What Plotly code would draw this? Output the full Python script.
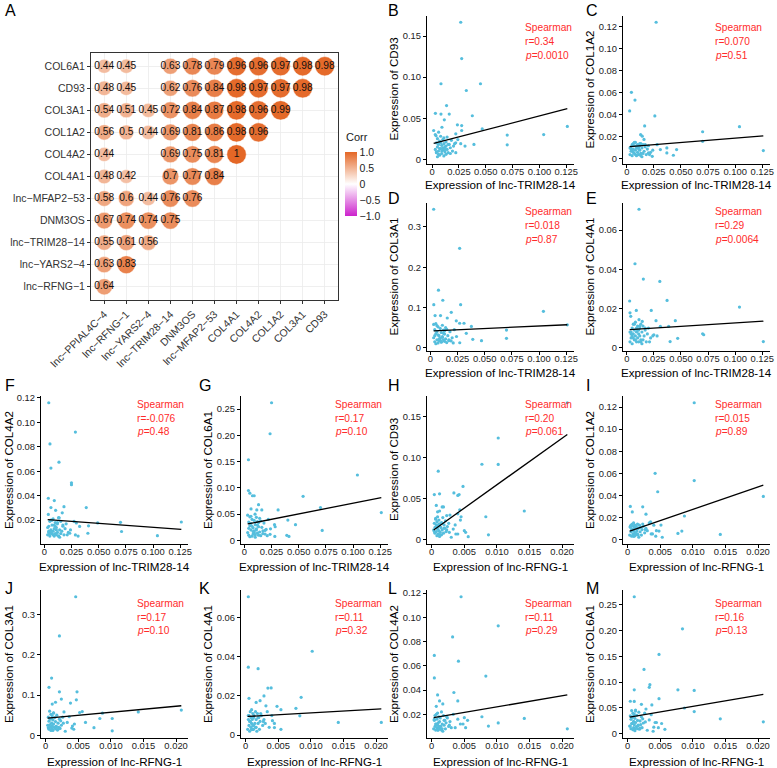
import numpy as np
import plotly.graph_objects as go

W, H = 777, 768
FONT = "Liberation Sans, Arial, sans-serif"

# ---------------- Panel A data: correlation matrix ----------------
corr_cols = ["lnc−PPIAL4C−4", "lnc−RFNG−1", "lnc−YARS2−4", "lnc−TRIM28−14", "DNM3OS",
             "lnc−MFAP2−53", "COL4A1", "COL4A2", "COL1A2", "COL3A1", "CD93"]
corr_rows = ["lnc−RFNG−1", "lnc−YARS2−4", "lnc−TRIM28−14", "DNM3OS", "lnc−MFAP2−53",
             "COL4A1", "COL4A2", "COL1A2", "COL3A1", "CD93", "COL6A1"]   # bottom -> top
corr_values = [
    [0.64],
    [0.63, 0.83],
    [0.55, 0.61, 0.56],
    [0.67, 0.74, 0.74, 0.75],
    [0.58, 0.60, 0.44, 0.76, 0.76],
    [0.48, 0.42, None, 0.70, 0.77, 0.84],
    [0.44, None, None, 0.69, 0.75, 0.81, 1.00],
    [0.56, 0.50, 0.44, 0.69, 0.81, 0.86, 0.98, 0.96],
    [0.54, 0.51, 0.45, 0.72, 0.84, 0.87, 0.98, 0.96, 0.99],
    [0.48, 0.45, None, 0.62, 0.76, 0.84, 0.98, 0.97, 0.97, 0.98],
    [0.44, 0.45, None, 0.63, 0.78, 0.79, 0.96, 0.96, 0.97, 0.98, 0.98],
]

# ---------------- Scatter data ----------------
trim_cluster_x = [0.003, 0.004, 0.004, 0.005, 0.005, 0.006, 0.006, 0.007, 0.007, 0.008, 0.008, 0.009, 0.009,
                  0.010, 0.010, 0.011, 0.011, 0.012, 0.012, 0.013, 0.013, 0.014, 0.014, 0.015, 0.016, 0.017,
                  0.018, 0.019, 0.020, 0.022, 0.003, 0.005, 0.007, 0.009, 0.011, 0.013, 0.006, 0.008, 0.010,
                  0.012, 0.004, 0.015, 0.017, 0.024, 0.021]
rfng_cluster_x = [0.0003, 0.0004, 0.0005, 0.0005, 0.0006, 0.0007, 0.0007, 0.0008, 0.0008, 0.0009, 0.0009,
                  0.0010, 0.0010, 0.0011, 0.0011, 0.0012, 0.0012, 0.0013, 0.0014, 0.0015, 0.0015, 0.0016,
                  0.0017, 0.0018, 0.0019, 0.0020, 0.0021, 0.0022, 0.0024, 0.0026, 0.0028, 0.0030, 0.0033,
                  0.0004, 0.0006, 0.0009, 0.0012, 0.0016, 0.0019, 0.0023, 0.0027, 0.0036, 0.0040, 0.0044,
                  0.0011]

b_x = [0.0267, 0.0276, 0.0083, 0.0451, 0.0319, 0.0135, 0.0031, 0.0083, 0.0160, 0.0375, 0.0114, 0.0236,
       0.0276, 0.0092, 0.0467, 0.0015, 0.0061, 0.0276, 0.0221, 0.0700, 0.1040, 0.1260, 0.0037, 0.0267,
       0.0390, 0.0307, 0.0700, 0.0221] + trim_cluster_x
b_y = [0.167, 0.1227, 0.092, 0.092, 0.0838, 0.0654, 0.056, 0.055, 0.055, 0.053, 0.048, 0.042, 0.041,
       0.039, 0.037, 0.035, 0.033, 0.035, 0.031, 0.0295, 0.030, 0.040, 0.0286, 0.019, 0.018, 0.016,
       0.0176, 0.008,
       0.012, 0.020, 0.008, 0.015, 0.025, 0.010, 0.018, 0.005, 0.022, 0.013, 0.028, 0.007, 0.017, 0.011,
       0.024, 0.004, 0.019, 0.009, 0.015, 0.021, 0.006, 0.012, 0.027, 0.008, 0.018, 0.014, 0.023, 0.010,
       0.016, 0.020, 0.030, 0.003, 0.013, 0.010, 0.026, 0.016, 0.006, 0.020, 0.014, 0.012, 0.009, 0.018,
       0.007, 0.024, 0.019]

c_x = [0.0271, 0.0043, 0.0076, 0.0027, 0.0259, 0.0165, 0.0700, 0.1040, 0.0128, 0.0143, 0.0159, 0.1260,
       0.0370, 0.0460, 0.0370, 0.0430, 0.0280, 0.0310, 0.0200, 0.0235, 0.0700] + trim_cluster_x
c_y = [0.124, 0.0604, 0.0534, 0.0436, 0.039, 0.030, 0.0247, 0.0293, 0.022, 0.0207, 0.0177, 0.0076,
       0.010, 0.0085, 0.0055, 0.0034, 0.013, 0.0085, 0.0055, 0.0024, 0.016,
       0.004, 0.011, 0.007, 0.013, 0.003, 0.009, 0.014, 0.005, 0.012, 0.008, 0.015, 0.003, 0.010, 0.013,
       0.006, 0.011, 0.004, 0.012, 0.008, 0.014, 0.005, 0.010, 0.002, 0.013, 0.007, 0.011, 0.004, 0.009,
       0.012, 0.006, 0.010, 0.008, 0.015, 0.012, 0.009, 0.003, 0.006, 0.004, 0.011, 0.014, 0.009, 0.005,
       0.013, 0.008, 0.004]

d_x = [0.0030, 0.0269, 0.0074, 0.0114, 0.0031, 0.0278, 0.1040, 0.0192, 0.0043, 0.0093, 0.0155, 0.0238,
       0.0269, 0.0309, 0.0377, 0.1260, 0.0700, 0.0700, 0.0390, 0.0470, 0.0270, 0.0330] + trim_cluster_x
d_y = [0.344, 0.247, 0.143, 0.118, 0.107, 0.107, 0.0905, 0.088, 0.080, 0.080, 0.074, 0.067, 0.061,
       0.061, 0.053, 0.057, 0.044, 0.0235, 0.021, 0.0176, 0.0126, 0.036,
       0.025, 0.045, 0.015, 0.035, 0.060, 0.020, 0.040, 0.012, 0.052, 0.030, 0.018, 0.048, 0.024, 0.038,
       0.014, 0.056, 0.028, 0.020, 0.044, 0.016, 0.034, 0.022, 0.050, 0.013, 0.030, 0.020, 0.040, 0.017,
       0.025, 0.045, 0.058, 0.010, 0.032, 0.019, 0.026, 0.042, 0.055, 0.022, 0.015, 0.036, 0.030, 0.046,
       0.018, 0.028, 0.012]

e_x = [0.0113, 0.0076, 0.0153, 0.0305, 0.0372, 0.0027, 0.1040, 0.0226, 0.0088, 0.0030, 0.0037, 0.0113,
       0.0448, 0.0270, 0.0143, 0.0310, 0.0387, 0.0700, 0.0710, 0.0250, 0.0280, 0.0470, 0.0400,
       0.1260] + trim_cluster_x
e_y = [0.0706, 0.0428, 0.035, 0.0338, 0.0241, 0.0238, 0.0207, 0.019, 0.019, 0.0178, 0.016, 0.0143,
       0.0138, 0.0138, 0.0134, 0.0109, 0.0109, 0.0071, 0.0066, 0.0066, 0.006, 0.0048, 0.0031, 0.0031,
       0.003, 0.008, 0.005, 0.010, 0.002, 0.007, 0.012, 0.004, 0.009, 0.006, 0.013, 0.003, 0.008, 0.011,
       0.005, 0.009, 0.003, 0.010, 0.006, 0.012, 0.004, 0.008, 0.002, 0.011, 0.006, 0.009, 0.003, 0.007,
       0.010, 0.005, 0.008, 0.006, 0.012, 0.010, 0.007, 0.003, 0.005, 0.004, 0.009, 0.011, 0.007, 0.004,
       0.010, 0.006, 0.003]

f_x = [0.0040, 0.0285, 0.0051, 0.0060, 0.0134, 0.0249, 0.0249, 0.0036, 0.0091, 0.0060, 0.0103, 0.0180,
       0.0385, 0.0164, 0.0036, 0.0136, 0.0273, 0.0294, 0.0490, 0.0700, 0.1260, 0.0406, 0.0324, 0.0400,
       0.0285, 0.0310, 0.0710, 0.1040, 0.0233] + trim_cluster_x
f_y = [0.116, 0.092, 0.0823, 0.0626, 0.0674, 0.0505, 0.049, 0.0379, 0.036, 0.0303, 0.028, 0.031, 0.0303,
       0.026, 0.0247, 0.0219, 0.019, 0.0177, 0.0177, 0.0182, 0.0185, 0.0154, 0.0149, 0.0093, 0.0079,
       0.007, 0.0107, 0.0073, 0.0093,
       0.008, 0.015, 0.010, 0.019, 0.007, 0.012, 0.020, 0.009, 0.016, 0.011, 0.021, 0.007, 0.013, 0.018,
       0.009, 0.014, 0.008, 0.017, 0.010, 0.022, 0.007, 0.012, 0.006, 0.019, 0.011, 0.015, 0.008, 0.013,
       0.017, 0.010, 0.014, 0.009, 0.020, 0.016, 0.012, 0.007, 0.010, 0.008, 0.015, 0.018, 0.011, 0.009,
       0.016, 0.012, 0.008]

g_x = [0.0250, 0.0236, 0.0037, 0.1040, 0.0037, 0.0050, 0.0074, 0.0090, 0.0540, 0.0130, 0.0700, 0.0061,
       0.0114, 0.0160, 0.0310, 0.0098, 0.1260, 0.0400, 0.0470, 0.0277, 0.0283, 0.0716, 0.0390, 0.0410,
       0.0280, 0.0236, 0.0190] + trim_cluster_x
g_y = [0.262, 0.203, 0.1535, 0.1245, 0.095, 0.090, 0.085, 0.085, 0.084, 0.068, 0.0626, 0.060, 0.058,
       0.058, 0.058, 0.050, 0.053, 0.0387, 0.030, 0.030, 0.026, 0.019, 0.0097, 0.0077, 0.0077, 0.0116,
       0.019,
       0.015, 0.035, 0.010, 0.028, 0.045, 0.020, 0.032, 0.008, 0.040, 0.024, 0.012, 0.038, 0.018, 0.030,
       0.006, 0.044, 0.022, 0.014, 0.036, 0.010, 0.026, 0.016, 0.042, 0.009, 0.025, 0.018, 0.033, 0.012,
       0.021, 0.040, 0.048, 0.007, 0.027, 0.015, 0.020, 0.034, 0.046, 0.017, 0.011, 0.029, 0.023, 0.037,
       0.013, 0.022, 0.009]

h_x = [0.0208, 0.0102, 0.0077, 0.0102, 0.0010, 0.0048, 0.0034, 0.0004, 0.0012, 0.0040, 0.0042, 0.0007,
       0.0016, 0.0018, 0.0012, 0.0009, 0.0043, 0.0040, 0.0142, 0.0083, 0.0045, 0.0023, 0.0050, 0.0052,
       0.0056, 0.0087, 0.0037] + rfng_cluster_x
h_y = [0.167, 0.124, 0.092, 0.0918, 0.0836, 0.065, 0.057, 0.055, 0.056, 0.054, 0.055, 0.0418, 0.040,
       0.040, 0.035, 0.034, 0.0365, 0.0316, 0.035, 0.028, 0.028, 0.0295, 0.011, 0.009, 0.0037, 0.006,
       0.007,
       0.012, 0.020, 0.008, 0.015, 0.025, 0.010, 0.018, 0.005, 0.022, 0.013, 0.028, 0.007, 0.017, 0.011,
       0.024, 0.004, 0.019, 0.009, 0.015, 0.021, 0.006, 0.012, 0.027, 0.008, 0.018, 0.014, 0.023, 0.010,
       0.016, 0.020, 0.030, 0.003, 0.013, 0.010, 0.026, 0.016, 0.006, 0.020, 0.014, 0.012, 0.009, 0.018,
       0.007, 0.024, 0.019]

i_x = [0.0102, 0.0042, 0.0102, 0.0046, 0.0208, 0.0004, 0.0023, 0.0007, 0.0028, 0.0087, 0.0035, 0.0051,
       0.0083, 0.0077, 0.0142, 0.0048, 0.0043, 0.0053, 0.0038] + rfng_cluster_x
i_y = [0.124, 0.060, 0.0534, 0.0433, 0.039, 0.030, 0.0296, 0.025, 0.0229, 0.0213, 0.016, 0.0131, 0.0076,
       0.0055, 0.0046, 0.0076, 0.003, 0.002, 0.005,
       0.004, 0.011, 0.007, 0.013, 0.003, 0.009, 0.014, 0.005, 0.012, 0.008, 0.015, 0.003, 0.010, 0.013,
       0.006, 0.011, 0.004, 0.012, 0.008, 0.014, 0.005, 0.010, 0.002, 0.013, 0.007, 0.011, 0.004, 0.009,
       0.012, 0.006, 0.010, 0.008, 0.015, 0.012, 0.009, 0.003, 0.006, 0.004, 0.011, 0.014, 0.009, 0.005,
       0.013, 0.008, 0.004]

j_x = [0.0046, 0.0021, 0.0009, 0.0005, 0.0021, 0.0048, 0.0024, 0.0047, 0.0015, 0.0038, 0.0010, 0.0056,
       0.0052, 0.0142, 0.0208, 0.0087, 0.0102, 0.0083, 0.0074, 0.0102, 0.0061, 0.0041, 0.0043] + rfng_cluster_x
j_y = [0.344, 0.2466, 0.142, 0.119, 0.108, 0.108, 0.090, 0.088, 0.082, 0.080, 0.0775, 0.059, 0.0566,
       0.058, 0.0625, 0.055, 0.0417, 0.0417, 0.019, 0.011, 0.032, 0.023, 0.015,
       0.025, 0.045, 0.015, 0.035, 0.060, 0.020, 0.040, 0.012, 0.052, 0.030, 0.018, 0.048, 0.024, 0.038,
       0.014, 0.056, 0.028, 0.020, 0.044, 0.016, 0.034, 0.022, 0.050, 0.013, 0.030, 0.020, 0.040, 0.017,
       0.025, 0.045, 0.058, 0.010, 0.032, 0.019, 0.026, 0.042, 0.055, 0.022, 0.015, 0.036, 0.030, 0.046,
       0.018, 0.028, 0.012]

k_x = [0.0004, 0.0004, 0.0019, 0.0102, 0.0034, 0.0039, 0.0005, 0.0085, 0.0022, 0.0028, 0.0016, 0.0031,
       0.0048, 0.0077, 0.0054, 0.0142, 0.0208, 0.0083, 0.0041, 0.0044, 0.0054] + rfng_cluster_x
k_y = [0.0706, 0.0347, 0.0339, 0.0428, 0.024, 0.0241, 0.0188, 0.0193, 0.0176, 0.020, 0.0167, 0.015,
       0.0147, 0.0137, 0.013, 0.0065, 0.0065, 0.0099, 0.0074, 0.0039, 0.003,
       0.003, 0.008, 0.005, 0.010, 0.002, 0.007, 0.012, 0.004, 0.009, 0.006, 0.013, 0.003, 0.008, 0.011,
       0.005, 0.009, 0.003, 0.010, 0.006, 0.012, 0.004, 0.008, 0.002, 0.011, 0.006, 0.009, 0.003, 0.007,
       0.010, 0.005, 0.008, 0.006, 0.012, 0.010, 0.007, 0.003, 0.005, 0.004, 0.009, 0.011, 0.007, 0.004,
       0.010, 0.006, 0.003]

l_x = [0.0045, 0.0102, 0.0032, 0.0004, 0.0041, 0.0083, 0.0004, 0.0034, 0.0040, 0.0009, 0.0012, 0.0007,
       0.0017, 0.0077, 0.0050, 0.0142, 0.0102, 0.0087, 0.0208, 0.0048, 0.0052, 0.0055] + rfng_cluster_x
l_y = [0.117, 0.093, 0.0838, 0.0686, 0.0638, 0.0515, 0.050, 0.038, 0.031, 0.036, 0.031, 0.0266, 0.0286,
       0.018, 0.0172, 0.0166, 0.0129, 0.0103, 0.008, 0.012, 0.009, 0.015,
       0.008, 0.015, 0.010, 0.019, 0.007, 0.012, 0.020, 0.009, 0.016, 0.011, 0.021, 0.007, 0.013, 0.018,
       0.009, 0.014, 0.008, 0.017, 0.010, 0.022, 0.007, 0.012, 0.006, 0.019, 0.011, 0.015, 0.008, 0.013,
       0.017, 0.010, 0.014, 0.009, 0.020, 0.016, 0.012, 0.007, 0.010, 0.008, 0.015, 0.018, 0.011, 0.009,
       0.016, 0.012, 0.008]

m_x = [0.0010, 0.0084, 0.0048, 0.0025, 0.0034, 0.0033, 0.0010, 0.0077, 0.0102, 0.0048, 0.0004, 0.0010,
       0.0021, 0.0087, 0.0102, 0.0142, 0.0208, 0.0037, 0.0042, 0.0052, 0.0047, 0.0057, 0.0039] + rfng_cluster_x
m_y = [0.265, 0.203, 0.1535, 0.1245, 0.095, 0.090, 0.085, 0.085, 0.084, 0.068, 0.063, 0.0626, 0.057,
       0.050, 0.043, 0.029, 0.0233, 0.056, 0.022, 0.020, 0.012, 0.0087, 0.005,
       0.015, 0.035, 0.010, 0.028, 0.045, 0.020, 0.032, 0.008, 0.040, 0.024, 0.012, 0.038, 0.018, 0.030,
       0.006, 0.044, 0.022, 0.014, 0.036, 0.010, 0.026, 0.016, 0.042, 0.009, 0.025, 0.018, 0.033, 0.012,
       0.021, 0.040, 0.048, 0.007, 0.027, 0.015, 0.020, 0.034, 0.046, 0.017, 0.011, 0.029, 0.023, 0.037,
       0.013, 0.022, 0.009]

panel_letters = ["B", "C", "D", "E", "F", "G", "H", "I", "J", "K", "L", "M"]
panel_genes = ["CD93", "COL1A2", "COL3A1", "COL4A1", "COL4A2", "COL6A1",
               "CD93", "COL1A2", "COL3A1", "COL4A1", "COL4A2", "COL6A1"]
panel_lnc = ["lnc-TRIM28-14"] * 6 + ["lnc-RFNG-1"] * 6
spearman_r = ["0.34", "0.070", "0.018", "0.29", "-0.076", "0.17",
              "0.20", "0.015", "0.17", "0.11", "0.11", "0.16"]
spearman_p = ["0.0010", "0.51", "0.87", "0.0064", "0.48", "0.10",
              "0.061", "0.89", "0.10", "0.32", "0.29", "0.13"]
# linear-fit lines (intercept, slope)
fit_intercept = [0.0188, 0.0109, 0.0418, 0.0091, 0.0206, 0.0301,
                 0.0102, 0.0069, 0.0421, 0.0095, 0.0169, 0.0316]
fit_slope = [0.340, 0.0796, 0.122, 0.0354, -0.065, 0.407,
             5.68, 2.04, 1.50, 0.187, 0.92, 2.14]

trim_ticks = [0, 0.025, 0.05, 0.075, 0.1, 0.125]
trim_ticktext = ["0", "0.025", "0.050", "0.075", "0.100", "0.125"]
rfng_ticks = [0, 0.005, 0.01, 0.015, 0.02]
rfng_ticktext = ["0", "0.005", "0.010", "0.015", "0.020"]
gene_ticks = {
    "CD93": ([0, 0.05, 0.10, 0.15], ["0", "0.05", "0.10", "0.15"]),
    "COL1A2": ([0, 0.02, 0.04, 0.06, 0.08, 0.10, 0.12], ["0", "0.02", "0.04", "0.06", "0.08", "0.10", "0.12"]),
    "COL3A1": ([0, 0.1, 0.2, 0.3], ["0", "0.1", "0.2", "0.3"]),
    "COL4A1": ([0, 0.02, 0.04, 0.06], ["0", "0.02", "0.04", "0.06"]),
    "COL4A2": ([0, 0.02, 0.04, 0.06, 0.08, 0.10, 0.12], ["0", "0.02", "0.04", "0.06", "0.08", "0.10", "0.12"]),
    "COL6A1": ([0, 0.05, 0.10, 0.15, 0.20, 0.25], ["0", "0.05", "0.10", "0.15", "0.20", "0.25"]),
}
panel_x = [b_x, c_x, d_x, e_x, f_x, g_x, h_x, i_x, j_x, k_x, l_x, m_x]
panel_y = [b_y, c_y, d_y, e_y, f_y, g_y, h_y, i_y, j_y, k_y, l_y, m_y]

# ---------------- layout geometry (pixels) ----------------
col_px = [(41, 188), (241, 388), (427, 574), (623, 770)]
row_px = [(15.5, 163.5), (202.5, 350.5), (396, 544), (590, 738)]
panel_cell = [(0, 2), (0, 3), (1, 2), (1, 3), (2, 0), (2, 1), (2, 2), (2, 3),
              (3, 0), (3, 1), (3, 2), (3, 3)]
text_x = [135, 333, 522.7, 713.3]
text_y = [27.7, 211.7, 404.3, 603.3]
letter_x = [3, 197, 386, 584]
letter_y = [10, 198, 385, 588]
ytitle_x = [8, 207, 393, 589]
xtitle_y = [184, 372, 566, 761]

def fx(px):
    return px / W

def fy(py):
    return 1 - py / H

fig = go.Figure()
annotations = []

# ---------------- Panel A ----------------
hx, hy, hv = [], [], []
for ri, row in enumerate(corr_values):
    for ci, v in enumerate(row):
        if v is not None:
            hx.append(ci)
            hy.append(ri)
            hv.append(v)
hv_arr = np.array(hv)
sizes = 19.5 * np.sqrt((16 + 84 * np.abs(hv_arr)) / 100.0)

def fmt(v):
    return f"{v:.2f}".rstrip("0").rstrip(".")

corr_scale = [[0, "#CC22CC"], [0.5, "#FFFFFF"], [1, "#E46726"]]
fig.add_trace(go.Scatter(
    x=hx, y=hy, mode="markers", xaxis="x", yaxis="y",
    marker=dict(size=sizes, color=hv, colorscale=corr_scale, cmin=-1, cmax=1,
                line=dict(width=0.5, color="white"), opacity=1,
                showscale=True,
                colorbar=dict(x=fx(345), xanchor="left", y=fy(184), yanchor="middle",
                              len=64, lenmode="pixels", thickness=12, thicknessmode="pixels",
                              outlinewidth=0, xpad=0, ypad=0,
                              tickvals=[-1, -0.5, 0, 0.5, 1],
                              ticktext=["−1.0", "−0.5", "0", "0.5", "1.0"],
                              ticks="", tickfont=dict(size=10.5, color="#222", family=FONT))),
    showlegend=False, hoverinfo="skip"))
fig.add_trace(go.Scatter(
    x=hx, y=hy, mode="text", xaxis="x", yaxis="y",
    text=[fmt(v) for v in hv], textposition="middle center",
    textfont=dict(size=10.2, color="#111", family=FONT),
    showlegend=False, hoverinfo="skip"))
annotations.append(dict(text="Corr", x=fx(344), y=fy(137), xref="paper", yref="paper",
                        xanchor="left", yanchor="middle", showarrow=False,
                        font=dict(size=11, color="#222", family=FONT)))

layout_axes = {}
layout_axes["xaxis"] = dict(
    domain=[fx(91), fx(338)], range=[-0.6, 10.6], tickvals=list(range(len(corr_cols))),
    ticktext=corr_cols, tickangle=-45, showgrid=True, gridcolor="#EBEBEB", gridwidth=0.8,
    showline=True, mirror=True, linecolor="#333", linewidth=1, ticks="outside", ticklen=3,
    tickcolor="#333", zeroline=False, tickfont=dict(size=10.5, color="#333", family=FONT),
    anchor="y", fixedrange=True, automargin=False)
layout_axes["yaxis"] = dict(
    domain=[fy(300), fy(53)], range=[-0.6, 10.6], tickvals=list(range(len(corr_rows))),
    ticktext=corr_rows, showgrid=True, gridcolor="#EBEBEB", gridwidth=0.8,
    showline=True, mirror=True, linecolor="#333", linewidth=1, ticks="outside", ticklen=3,
    tickcolor="#333", zeroline=False, tickfont=dict(size=10.5, color="#333", family=FONT),
    anchor="x", fixedrange=True, automargin=False)
annotations.append(dict(text="A", x=fx(3), y=fy(11), xref="paper", yref="paper",
                        xanchor="left", yanchor="middle", showarrow=False,
                        font=dict(size=16, color="black", family=FONT)))

# ---------------- Scatter panels ----------------
for k in range(12):
    r_i, c_i = panel_cell[k]
    xs = np.array(panel_x[k])
    ys = np.array(panel_y[k])
    ax_id = k + 2
    xname, yname = f"x{ax_id}", f"y{ax_id}"
    xpad = 0.05 * (xs.max() - xs.min())
    ypad = 0.05 * (ys.max() - ys.min())
    xr = [xs.min() - xpad, xs.max() + xpad]
    yr = [ys.min() - ypad, ys.max() + ypad]
    fig.add_trace(go.Scatter(x=xs, y=ys, mode="markers", xaxis=xname, yaxis=yname,
                             marker=dict(size=3.2, color="#55BEDD"),
                             showlegend=False, hoverinfo="skip"))
    lx = np.array([xs.min(), xs.max()])
    ly = fit_intercept[k] + fit_slope[k] * lx
    fig.add_trace(go.Scatter(x=lx, y=ly, mode="lines", xaxis=xname, yaxis=yname,
                             line=dict(color="black", width=1.3),
                             showlegend=False, hoverinfo="skip"))
    if panel_lnc[k] == "lnc-TRIM28-14":
        tv, tt = trim_ticks, trim_ticktext
    else:
        tv, tt = rfng_ticks, rfng_ticktext
    gtv, gtt = gene_ticks[panel_genes[k]]
    x0, x1 = col_px[c_i]
    y0, y1 = row_px[r_i]
    common = dict(showline=True, linecolor="black", linewidth=1.1, ticks="outside", ticklen=3,
                  tickwidth=1, tickcolor="black", showgrid=False, zeroline=False,
                  tickfont=dict(size=9.4, color="#222", family=FONT), fixedrange=True,
                  automargin=False)
    layout_axes[f"xaxis{ax_id}"] = dict(domain=[fx(x0), fx(x1)], range=xr, tickvals=tv, ticktext=tt,
                                        anchor=yname, ticklabelstandoff=-4, **common)
    layout_axes[f"yaxis{ax_id}"] = dict(domain=[fy(y1), fy(y0)], range=yr, tickvals=gtv, ticktext=gtt,
                                        anchor=xname, **common)
    annotations.append(dict(text=panel_letters[k], x=fx(letter_x[c_i]), y=fy(letter_y[r_i]),
                            xref="paper", yref="paper", xanchor="left", yanchor="middle",
                            showarrow=False, font=dict(size=16, color="black", family=FONT)))
    annotations.append(dict(text=f"Expression of {panel_lnc[k]}", x=fx((x0 + x1) / 2),
                            y=fy(xtitle_y[r_i]), xref="paper", yref="paper",
                            xanchor="center", yanchor="middle", showarrow=False,
                            font=dict(size=11.6, color="black", family=FONT)))
    annotations.append(dict(text=f"Expression of {panel_genes[k]}", x=fx(ytitle_x[c_i]),
                            y=fy((y0 + y1) / 2), xref="paper", yref="paper", textangle=-90,
                            xanchor="center", yanchor="middle", showarrow=False,
                            font=dict(size=11.6, color="black", family=FONT)))
    lines = ["Spearman", f"r={spearman_r[k]}", f"<i>p</i>={spearman_p[k]}"]
    for li, t in enumerate(lines):
        annotations.append(dict(text=t, x=fx(text_x[c_i]), y=fy(text_y[r_i] + 13.8 * li),
                                xref="paper", yref="paper", xanchor="left", yanchor="middle",
                                showarrow=False,
                                font=dict(size=10.2, color="#FF2B2B", family=FONT)))

fig.update_layout(
    template="none",
    width=W, height=H, margin=dict(l=0, r=0, t=0, b=0, pad=0, autoexpand=False),
    paper_bgcolor="white", plot_bgcolor="white",
    font=dict(family=FONT, color="#222"),
    annotations=annotations, **layout_axes)

fig.write_html("out.html", config={"displayModeBar": False, "staticPlot": True},
               post_script="document.body.style.margin='0';document.body.style.overflow='hidden';")
